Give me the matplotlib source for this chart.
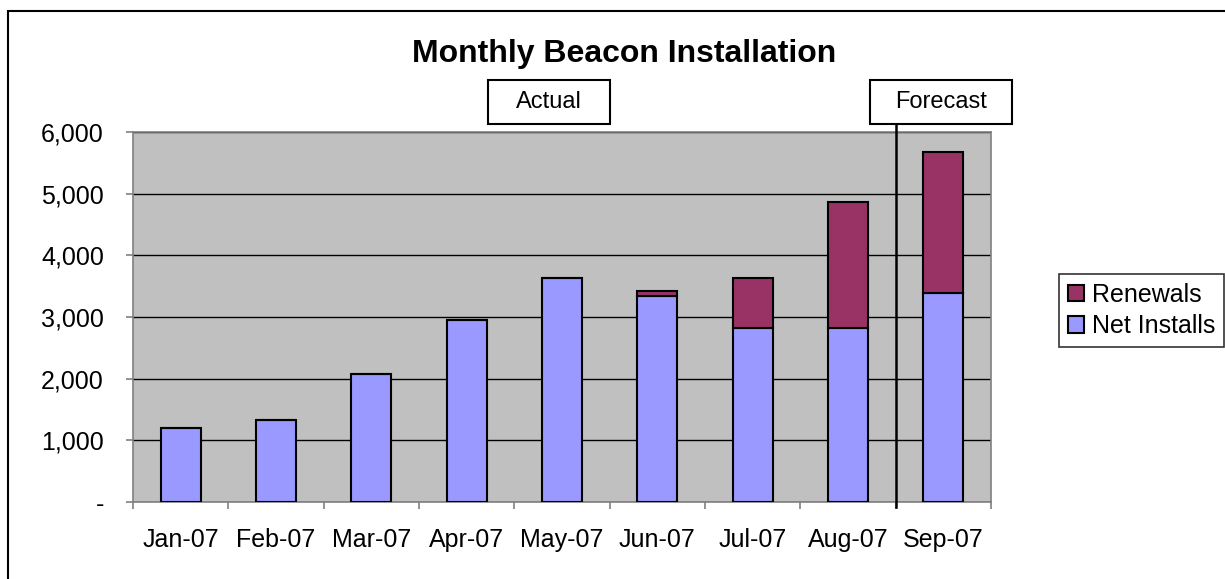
import matplotlib
matplotlib.use('Agg')
import matplotlib.pyplot as plt
from matplotlib.patches import Rectangle
from matplotlib.lines import Line2D
import matplotlib.transforms as mtransforms
import numpy as np

# Chart data
months = ['Jan-07', 'Feb-07', 'Mar-07', 'Apr-07', 'May-07', 'Jun-07', 'Jul-07', 'Aug-07', 'Sep-07']
net_installs = [1195, 1325, 2070, 2950, 3625, 3335, 2815, 2815, 3395]
renewals = [0, 0, 0, 0, 0, 90, 810, 2045, 2275]
y_ticks = [0, 1000, 2000, 3000, 4000, 5000, 6000]
y_labels = ['-', '1,000', '2,000', '3,000', '4,000', '5,000', '6,000']

plt.rcParams['font.family'] = ['Liberation Sans', 'DejaVu Sans']

W, H = 1225, 579
fig = plt.figure(figsize=(W / 100, H / 100), dpi=100)
fig.patch.set_facecolor('white')

# Outer chart border (runs off right and bottom)
fig.patches.append(Rectangle((8 / W, -0.1), 1.2, 1 - 11 / H + 0.1, transform=fig.transFigure,
                             fill=False, edgecolor='black', linewidth=1.5))

ax = fig.add_axes([133 / W, 1 - 502 / H, (991 - 133) / W, (502 - 132) / H])
ax.set_facecolor('#C0C0C0')
for s in ax.spines.values():
    s.set_color('#808080')
    s.set_linewidth(1.2)

x = np.arange(len(months))
ax.bar(x, net_installs, width=0.42, color='#9999FF', edgecolor='black', linewidth=1.5,
       label='Net Installs', zorder=3)
ax.bar(x, renewals, width=0.42, bottom=net_installs, color='#993366', edgecolor='black',
       linewidth=1.5, label='Renewals', zorder=3)

ax.set_xlim(-0.5, len(months) - 0.5)
ax.set_ylim(0, 6000)
ax.set_yticks(y_ticks)
ax.set_yticklabels(y_labels, fontsize=18)
ax.yaxis.grid(True, color='black', linewidth=1.0, zorder=1)
ax.set_axisbelow(True)

ax.set_xticks(x)
ax.set_xticklabels(months, fontsize=18)
ax.set_xticks(np.arange(-0.5, len(months)), minor=True)
ax.tick_params(axis='x', which='major', length=0, pad=19)
ax.tick_params(axis='x', which='minor', length=5, color='#808080', width=1.2)
ax.tick_params(axis='y', length=5, color='#808080', width=1.2, pad=16)

# Actual / Forecast divider
trans = mtransforms.blended_transform_factory(ax.transData, ax.transAxes)
ax.add_line(Line2D([7.5, 7.5], [-0.014, 1.022], transform=trans, color='black',
                   linewidth=1.8, clip_on=False, zorder=5))

# Title
fig.text(624 / W, 1 - 54 / H, 'Monthly Beacon Installation', fontsize=23, fontweight='bold',
         ha='center', va='center')

# Actual / Forecast label boxes
for x0, x1, txt in [(488, 610, 'Actual'), (870, 1012, 'Forecast')]:
    fig.patches.append(Rectangle((x0 / W, 1 - 124 / H), (x1 - x0) / W, 44 / H,
                                 transform=fig.transFigure, facecolor='white',
                                 edgecolor='black', linewidth=1.5, zorder=4))
    fig.text((x0 + x1) / 2 / W, 1 - 102 / H, txt, fontsize=17, ha='center', va='center',
             zorder=6)

# Legend
handles, labels = ax.get_legend_handles_labels()
leg = fig.legend(handles[::-1], labels[::-1], loc='upper left',
                 bbox_to_anchor=(1059 / W, 1 - 274 / H), fontsize=18, frameon=True,
                 fancybox=False, edgecolor='black', handlelength=0.65, handleheight=0.65,
                 handletextpad=0.3, borderpad=0.35, labelspacing=0.3, borderaxespad=0)
leg.get_frame().set_linewidth(1.2)

fig.savefig('out.png', dpi=100)
plt.close(fig)
